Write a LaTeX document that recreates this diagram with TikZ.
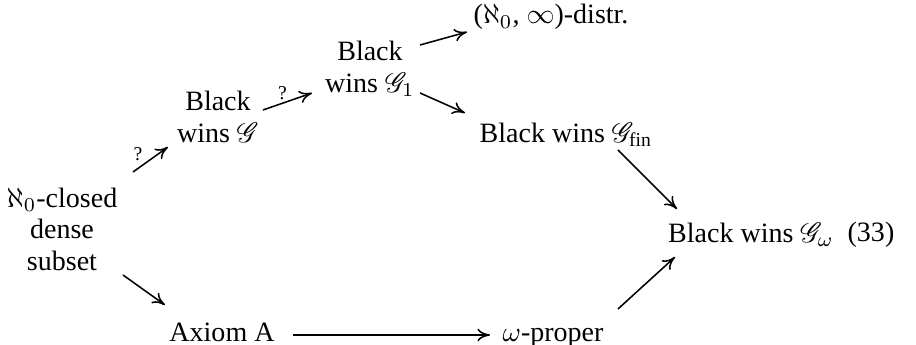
\documentclass[tikz,border=0pt]{standalone}
\usepackage{fontspec}
\setmainfont{Liberation Serif}
\usepackage{mathrsfs}
\usetikzlibrary{arrows.meta}
\tikzset{
  txt/.style={inner sep=0pt, font=\fontsize{10}{11.25}\selectfont, align=center},
  imp/.style={-{To[length=4.5pt,width=4.5pt]}, line width=0.55pt},
  qlab/.style={font=\scriptsize, inner sep=1pt}
}
\begin{document}
\begin{tikzpicture}[x=0.357pt,y=-0.357pt]
\useasboundingbox (0,0) rectangle (916,345);
\node[txt] (A) at (62,229) {$\aleph_0$-closed\\dense\\subset};
\node[txt] (B) at (218,117) {Black\\wins $\mathscr{G}$};
\node[txt] (C) at (370,69) {Black\\wins $\mathscr{G}_1$};
\node[txt,anchor=base] (D) at (551,24) {($\aleph_0$, $\infty$)-distr.};
\node[txt] (E) at (566,135) {Black wins $\mathscr{G}_{\mathrm{fin}}$};
\node[txt] (F) at (751,235) {Black wins $\mathscr{G}_\omega$};
\node[txt] (N) at (871,235) {(33)};
\node[txt,anchor=base] (G) at (222,342) {Axiom A};
\node[txt,anchor=base] (H) at (553,342) {$\omega$-proper};
\draw[imp] ([shift={(71,-57)}]A.center) -- node[qlab,pos=0.3,above,xshift=-2pt]{?} ([shift={(-50,30)}]B.center);
\draw[imp] ([shift={(45,-7)}]B.center) -- node[qlab,pos=0.4,above]{?} ([shift={(-58,24)}]C.center);
\draw[imp] ([shift={(50,-24)}]C.center) -- ([shift={(-84,8)}]D.base);
\draw[imp] ([shift={(50,24)}]C.center) -- ([shift={(-101,-22)}]E.center);
\draw[imp] ([shift={(52,15)}]E.center) -- ([shift={(-74,-26)}]F.center);
\draw[imp] ([shift={(61,46)}]A.center) -- ([shift={(-57,-37)}]G.base);
\draw[imp] ([shift={(71,-7)}]G.base) -- ([shift={(-63,-7)}]H.base);
\draw[imp] ([shift={(65,-33)}]H.base) -- ([shift={(-76,22)}]F.center);
\end{tikzpicture}
\end{document}
